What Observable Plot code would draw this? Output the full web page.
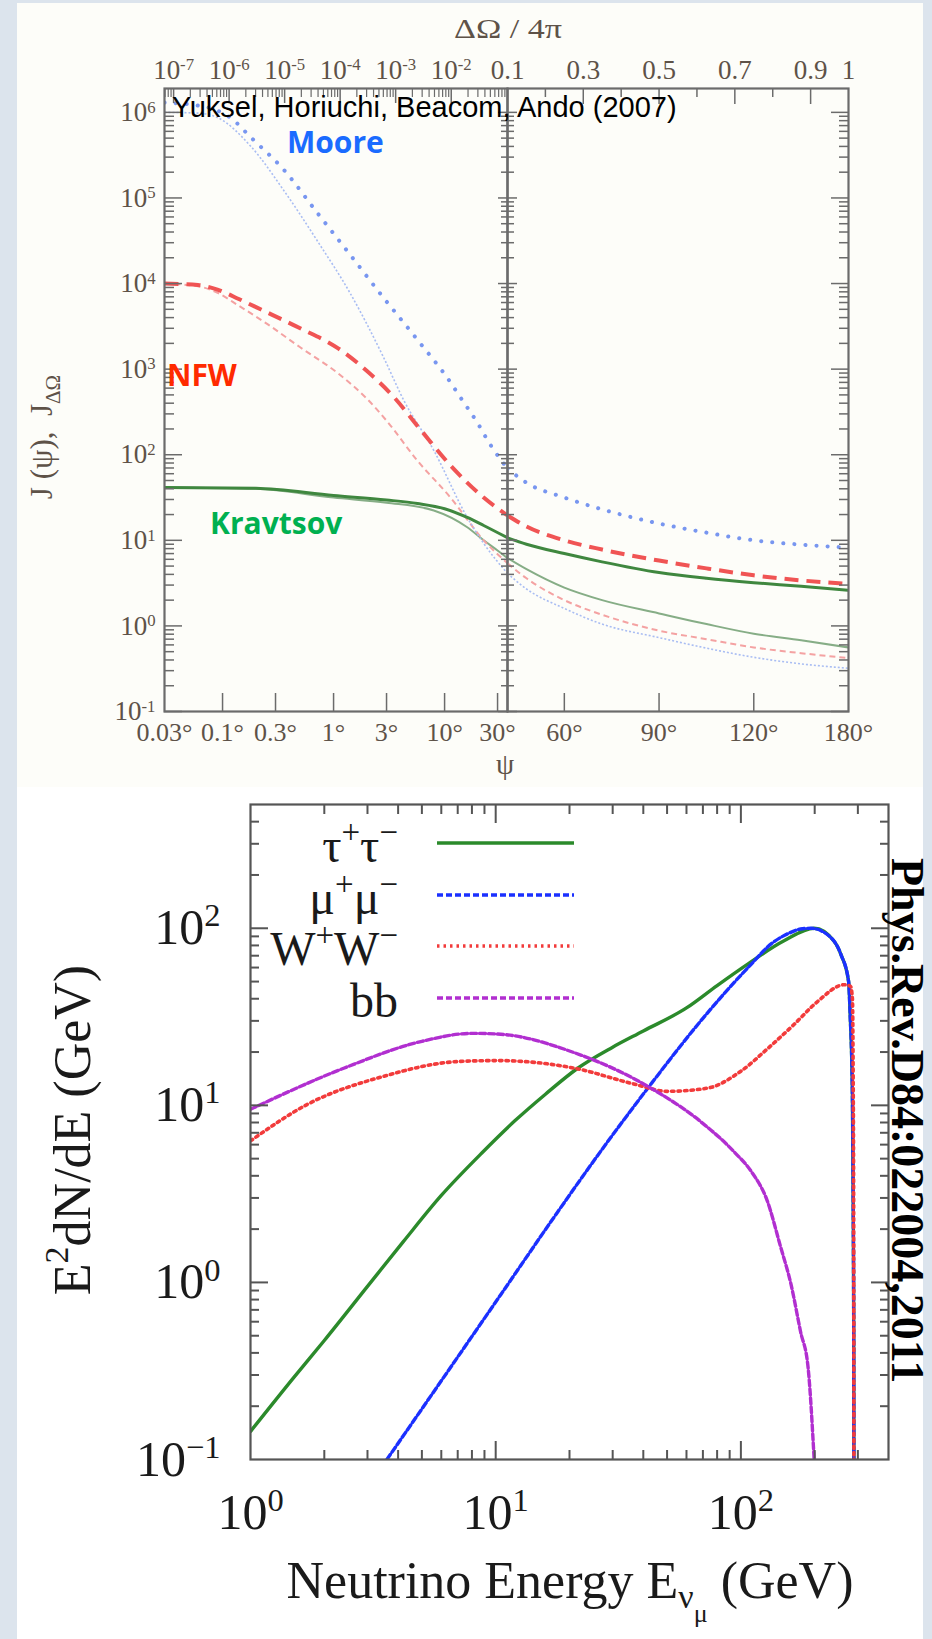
<!DOCTYPE html>
<html><head><meta charset="utf-8">
<script src="https://cdn.jsdelivr.net/npm/d3@7"></script>
<script src="https://cdn.jsdelivr.net/npm/@observablehq/plot@0.6"></script>
<style>
html,body{margin:0;padding:0;}
body{width:932px;height:1639px;background:#dce4ed;position:relative;overflow:hidden;}
.abs{position:absolute;}
</style></head>
<body>
<div class="abs" style="left:17px;top:3px;width:906px;height:784px;background:#fdfdf9"></div>
<div class="abs" style="left:17px;top:787px;width:906px;height:852px;background:#ffffff"></div>
<script>
// ---------------- TOP PANEL DATA (ψ in degrees, J values) ----------------
const psiRight = [36.87, 45.6, 60, 72.5, 90, 104.5, 120, 138.6, 180];

const mooreAvgPsi = [0.03, 0.06, 0.09, 0.12, 0.18, 0.36, 0.72, 1.4, 2.8, 5.7, 11.3, 14, 20, 25, 36.87];
const mooreAvgJ   = [1.3e6, 1.2e6, 1.05e6, 8.5e5, 5.1e5, 2.1e5, 6.6e4, 2.2e4, 6.9e3, 2.2e3, 700, 460, 230, 140, 69];
const mooreAvgJR  = [69, 47, 31.6, 23, 15.7, 12.3, 10, 8.9, 8.2];

const moorePsi = [0.03, 0.06, 0.09, 0.18, 0.36, 0.72, 1.42, 2.8, 4.3, 8, 16, 22.5, 36.87];
const mooreJ   = [1.0e6, 9.8e5, 8.7e5, 4.0e5, 1.2e5, 3.1e4, 7.6e3, 1.4e3, 430, 112, 18.5, 9.2, 4.1];
const mooreJR  = [4.1, 2.7, 1.6, 1.05, 0.73, 0.55, 0.43, 0.36, 0.32];

const nfwAvgPsi = [0.03, 0.06, 0.09, 0.14, 0.22, 0.5, 1.1, 2.0, 3.5, 6, 11.3, 22.5, 36.87];
const nfwAvgJ   = [1.0e4, 9.6e3, 8.5e3, 6.6e3, 5.0e3, 3.0e3, 1.75e3, 950, 470, 200, 75, 31.6, 19.5];
const nfwAvgJR  = [19.5, 14.5, 10, 7.8, 5.8, 4.7, 3.9, 3.4, 3.1];

const nfwPsi = [0.03, 0.06, 0.09, 0.14, 0.25, 0.5, 1.1, 2.0, 3.0, 5.7, 11.3, 22.5, 36.87];
const nfwJ   = [1.0e4, 9.3e3, 7.8e3, 5.5e3, 3.4e3, 1.8e3, 890, 450, 250, 85, 31.6, 10, 5.4];
const nfwJR  = [5.4, 3.6, 2.0, 1.35, 0.88, 0.7, 0.56, 0.48, 0.42];

const kravAvgPsi = [0.03, 0.2, 1, 3, 5.7, 10, 16, 22.5, 36.87];
const kravAvgJ   = [41.5, 40.6, 33.4, 29.6, 26.9, 23.4, 18.5, 14.9, 10.7];
const kravAvgJR  = [10.7, 9.0, 7.0, 5.6, 4.2, 3.6, 3.2, 2.9, 2.6];

const kravPsi = [0.03, 0.2, 1, 3, 8, 16, 22.5, 30, 36.87];
const kravJ   = [41.5, 40, 31.6, 27.5, 22.3, 14.2, 10, 7.6, 6.2];
const kravJR  = [6.2, 4.6, 2.8, 2.0, 1.4, 1.05, 0.81, 0.68, 0.56];

// tick labels (top panel)
const psiTicksLeft = [0.03, 0.1, 0.3, 1, 3, 10, 30];
const psiTicksRight = [60, 90, 120, 180];
const omegaExpTicks = [-7, -6, -5, -4, -3, -2];
const omegaLinTicks = [0.3, 0.5, 0.7, 0.9, 1];
const jExpTicks = [-1, 0, 1, 2, 3, 4, 5, 6];

// ---------------- BOTTOM PANEL DATA (E in GeV, E^2 dN/dE in GeV) ----------------
const channelNames = ["τ^+τ^−", "μ^+μ^−", "W^+W^−", "bb"];
const tauE = [1, 1.5, 2, 3, 4.2, 6, 8.8, 12, 16, 21.6, 30, 40, 60, 80, 107, 150, 199, 240, 256, 275, 279, 285, 287, 288.5, 289];
const tauV = [0.144, 0.29, 0.47, 0.95, 1.7, 3.1, 5.4, 8.2, 11.6, 16.2, 21.3, 26.3, 35.5, 47.5, 63, 85, 100, 84.5, 71, 50, 32.7, 11.5, 3, 0.6, 0.1];
const muE  = [3.6, 10.5, 17.9, 26.8, 43, 70, 107, 135, 155, 175, 193, 230, 256, 275, 279, 285, 287, 288.5, 289];
const muV  = [0.1, 0.855, 2.5, 5.5, 13.2, 31, 60, 83, 93, 99, 100, 90, 71, 50, 32.7, 11.5, 3, 0.6, 0.1];
const wwE  = [1, 1.7, 3.5, 7.1, 10.2, 21, 36.6, 50, 73, 100, 129, 165, 206, 264, 280, 285, 287, 288.5, 289];
const wwV  = [6.3, 10.1, 14.6, 17.7, 17.9, 16.2, 13.2, 12.0, 12.5, 15.6, 21, 28.7, 38.7, 48, 47, 40, 15, 2, 0.1];
const bbE  = [1, 2.4, 5, 8, 10.5, 21, 43, 68.5, 94, 110, 128, 145, 160, 175, 188, 199];
const bbV  = [9.5, 16.2, 23, 25.5, 25.2, 19.8, 12.5, 8.1, 5.45, 4.25, 2.9, 1.6, 0.98, 0.53, 0.33, 0.1];
const energyExpTicks = [0, 1, 2];
const specExpTicks = [-1, 0, 1, 2];

// ---------------- helpers ----------------
const DEG = Math.PI / 180;
const uOfPsi = p => (1 - Math.cos(p * DEG)) / 2;          // ΔΩ/4π for cone half-angle ψ
const psiOfU = u => 2 * Math.asin(Math.sqrt(u)) / DEG;
const PSI_DIV = psiOfU(0.1);
const TXT = "#5e5248", TK = "#6b6b6b";

function decadeMinors(kLo, kHi, lo, hi) {
  const out = [];
  for (let k = kLo; k <= kHi; k++) for (let m = 2; m <= 9; m++) {
    const v = m * Math.pow(10, k);
    if (v > lo * 1.0001 && v < hi * 0.9999) out.push(v);
  }
  return out;
}
function supify(svg, supSize, supDy) {
  d3.select(svg).selectAll("text").each(function () {
    if (this.querySelector("tspan")) return;
    const t = this.textContent, i = t.indexOf("^");
    if (i < 0) return;
    const sel = d3.select(this);
    sel.text(null);
    sel.append("tspan").text(t.slice(0, i));
    sel.append("tspan").attr("dy", supDy).attr("font-size", supSize).text(t.slice(i + 1));
  });
}
function place(svg, left, top) {
  svg.style.position = "absolute"; svg.style.left = left + "px"; svg.style.top = top + "px";
  document.body.appendChild(svg);
}

const topSeries = [
  {psi: kravPsi,    jl: kravJ,    jr: kravJR,    stroke: "#86ad86", sw: 2,   dash: null},
  {psi: nfwPsi,     jl: nfwJ,     jr: nfwJR,     stroke: "#f4a2a2", sw: 2,   dash: "6,4"},
  {psi: moorePsi,   jl: mooreJ,   jr: mooreJR,   stroke: "#a9bdf3", sw: 1.6, dash: "2,2"},
  {psi: mooreAvgPsi,jl: mooreAvgJ,jr: mooreAvgJR,stroke: "#7896f0", sw: 4,   dash: "0.1,11", cap: "round"},
  {psi: nfwAvgPsi,  jl: nfwAvgJ,  jr: nfwAvgJR,  stroke: "#f05454", sw: 4,   dash: "14,8"},
  {psi: kravAvgPsi, jl: kravAvgJ, jr: kravAvgJR, stroke: "#3f873f", sw: 3,   dash: null}
];
const lineOpts = s => ({stroke: s.stroke, strokeWidth: s.sw, strokeDasharray: s.dash, strokeLinecap: s.cap || "butt", curve: "monotone-x", clip: true});

const yMaj = jExpTicks.map(k => Math.pow(10, k));
const yMin = decadeMinors(-1, 5, 0.1, 1.9e6);
const yDomain = [0.1, 1.9e6];
const H = 790, MT = 88, MB = H - 711;

// top axis (ΔΩ/4π) ticks on left panel, converted to ψ
const topMajPsi = omegaExpTicks.map(k => psiOfU(Math.pow(10, k)));
const topMinPsi = decadeMinors(-8, -2, uOfPsi(0.03), 0.1).map(psiOfU);
const topLabPsi = [...omegaExpTicks.map(k => Math.pow(10, k)), 0.1].map(psiOfU);

const labTop = (data, fmt) => Plot.text(data, {x: d => d, text: fmt, frameAnchor: "top", lineAnchor: "bottom", dy: -10, fontSize: 27, fill: TXT});
const labBottom = (data, fmt) => Plot.text(data, {x: d => d, text: fmt, frameAnchor: "bottom", lineAnchor: "top", dy: 11, fontSize: 26, fill: TXT});

// ---------------- Plot A: left half (log ψ) ----------------
const A = Plot.plot({
  width: 508, height: H, marginLeft: 164, marginRight: 1, marginTop: MT, marginBottom: MB,
  x: {type: "log", domain: [0.03, PSI_DIV], axis: null},
  y: {type: "log", domain: yDomain, axis: null},
  style: {background: "transparent", overflow: "visible", fontFamily: "Liberation Serif"},
  marks: [
    ...topSeries.map(s => Plot.line(s.psi.map((p, i) => ({psi: p, J: s.jl[i]})), {x: "psi", y: "J", ...lineOpts(s)})),
    Plot.frame({stroke: TK, strokeWidth: 2.2}),
    Plot.axisY(yMaj, {anchor: "left", tickSize: -18, fill: "none", stroke: TK, strokeWidth: 1.5}),
    Plot.axisY(yMin, {anchor: "left", tickSize: -10, fill: "none", stroke: TK, strokeWidth: 1.5}),
    Plot.axisY(yMaj, {anchor: "right", tickSize: -10, fill: "none", stroke: TK, strokeWidth: 1.5}),
    Plot.axisY(yMin, {anchor: "right", tickSize: -7, fill: "none", stroke: TK, strokeWidth: 1.5}),
    Plot.text(yMaj, {y: d => d, text: d => "10^" + Math.round(Math.log10(d)), frameAnchor: "left", textAnchor: "end", dx: -9, fontSize: 27, fill: TXT}),
    Plot.axisX(psiTicksLeft.slice(1), {anchor: "bottom", tickSize: -18, fill: "none", stroke: TK, strokeWidth: 1.5}),
    labBottom(psiTicksLeft, d => d + "°"),
    Plot.axisX(topMajPsi, {anchor: "top", tickSize: -14, fill: "none", stroke: TK, strokeWidth: 1.5}),
    Plot.axisX(topMinPsi, {anchor: "top", tickSize: -8, fill: "none", stroke: TK, strokeWidth: 1.2}),
    labTop(topLabPsi, d => { const e = Math.round(Math.log10(uOfPsi(d))); return e === -1 ? "0.1" : "10^-" + (-e); })
  ]
});
supify(A, "0.62em", "-0.5em");
place(A, 0, 0);

// ---------------- Plot B: right half (linear ΔΩ/4π) ----------------
const topLinMinor = [0.2, 0.4, 0.6, 0.8];
const topLinMajor = [0.3, 0.5, 0.7, 0.9];
const B = Plot.plot({
  width: 401, height: H, marginLeft: 0, marginRight: 60, marginTop: MT, marginBottom: MB,
  x: {domain: [0.1, 1], axis: null},
  y: {type: "log", domain: yDomain, axis: null},
  style: {background: "transparent", overflow: "visible", fontFamily: "Liberation Serif"},
  marks: [
    ...topSeries.map(s => Plot.line(psiRight.map((p, i) => ({u: uOfPsi(p), J: s.jr[i]})), {x: "u", y: "J", ...lineOpts(s)})),
    Plot.frame({stroke: TK, strokeWidth: 2.2}),
    Plot.axisY(yMaj, {anchor: "left", tickSize: -10, fill: "none", stroke: TK, strokeWidth: 1.5}),
    Plot.axisY(yMin, {anchor: "left", tickSize: -7, fill: "none", stroke: TK, strokeWidth: 1.5}),
    Plot.axisY(yMaj, {anchor: "right", tickSize: -18, fill: "none", stroke: TK, strokeWidth: 1.5}),
    Plot.axisY(yMin, {anchor: "right", tickSize: -10, fill: "none", stroke: TK, strokeWidth: 1.5}),
    Plot.axisX(psiTicksRight.slice(0, -1).map(uOfPsi), {anchor: "bottom", tickSize: -18, fill: "none", stroke: TK, strokeWidth: 1.5}),
    labBottom(psiTicksRight.map(uOfPsi), d => Math.round(psiOfU(d)) + "°"),
    Plot.axisX(topLinMinor, {anchor: "top", tickSize: -8, fill: "none", stroke: TK, strokeWidth: 1.5}),
    Plot.axisX(topLinMajor, {anchor: "top", tickSize: -15, fill: "none", stroke: TK, strokeWidth: 1.5}),
    labTop(omegaLinTicks, d => String(d))
  ]
});
place(B, 507, 0);

// ---------------- Plot C: bottom panel ----------------
const bottomSeries = [
  {e: tauE, v: tauV, stroke: "#2b8a2b", sw: 3.4, dash: null},
  {e: muE,  v: muV,  stroke: "#1b30ff", sw: 3.4, dash: "6,3"},
  {e: wwE,  v: wwV,  stroke: "#f23b3b", sw: 3.6, dash: "2.5,4"},
  {e: bbE,  v: bbV,  stroke: "#b12fd0", sw: 3.4, dash: "6,3"}
];
const xMaj = energyExpTicks.map(k => Math.pow(10, k));
const xMin = decadeMinors(0, 2, 1, 400);
const yMajC = specExpTicks.map(k => Math.pow(10, k));
const yMinC = decadeMinors(-1, 2, 0.1, 500);
const C = Plot.plot({
  width: 932, height: 859, marginLeft: 250, marginRight: 44, marginTop: 24, marginBottom: 180,
  x: {type: "log", domain: [1, 400], axis: null},
  y: {type: "log", domain: [0.1, 500], axis: null},
  style: {background: "transparent", overflow: "visible", fontFamily: "Liberation Serif"},
  marks: [
    ...bottomSeries.map(s => Plot.line(s.e.map((e, i) => ({E: e, V: s.v[i]})),
      {x: "E", y: "V", stroke: s.stroke, strokeWidth: s.sw, strokeDasharray: s.dash, curve: "monotone-x", clip: true})),
    Plot.frame({stroke: "#555", strokeWidth: 2.2}),
    Plot.axisY(yMajC.slice(1), {anchor: "left", tickSize: -18, fill: "none", stroke: "#555", strokeWidth: 2}),
    Plot.axisY(yMinC, {anchor: "left", tickSize: -9, fill: "none", stroke: "#555", strokeWidth: 2}),
    Plot.axisY(yMajC.slice(1), {anchor: "right", tickSize: -18, fill: "none", stroke: "#555", strokeWidth: 2}),
    Plot.axisY(yMinC, {anchor: "right", tickSize: -9, fill: "none", stroke: "#555", strokeWidth: 2}),
    Plot.axisX(xMaj.slice(1), {anchor: "bottom", tickSize: -18, fill: "none", stroke: "#555", strokeWidth: 2}),
    Plot.axisX(xMin, {anchor: "bottom", tickSize: -9, fill: "none", stroke: "#555", strokeWidth: 2}),
    Plot.axisX(xMaj.slice(1), {anchor: "top", tickSize: -18, fill: "none", stroke: "#555", strokeWidth: 2}),
    Plot.axisX(xMin, {anchor: "top", tickSize: -9, fill: "none", stroke: "#555", strokeWidth: 2}),
    Plot.text(yMajC, {y: d => d, text: d => "10^" + String(Math.round(Math.log10(d))).replace("-", "−"),
      frameAnchor: "left", textAnchor: "end", dx: -30, fontSize: 50, fill: "#1a1a1a"}),
    Plot.text(xMaj, {x: d => d, text: d => "10^" + Math.round(Math.log10(d)),
      frameAnchor: "bottom", lineAnchor: "top", dy: 34, fontSize: 50, fill: "#1a1a1a"})
  ]
});
supify(C, "0.65em", "-0.55em");
place(C, 0, 780);

// ---------------- overlay: titles, annotations, legend ----------------
const ov = d3.select(document.body).append("svg")
  .attr("width", 932).attr("height", 1639)
  .style("position", "absolute").style("left", "0px").style("top", "0px")
  .attr("font-family", "Liberation Serif");

ov.append("text").attr("x", 508).attr("y", 38).attr("text-anchor", "middle").attr("font-size", 28).attr("fill", TXT)
  .attr("textLength", 108).attr("lengthAdjust", "spacingAndGlyphs").text("ΔΩ / 4π");
const jl = ov.append("text").attr("transform", "translate(52,437) rotate(-90)").attr("text-anchor", "middle")
  .attr("font-size", 31).attr("fill", TXT);
jl.append("tspan").text("J (ψ),\u00a0\u00a0J");
jl.append("tspan").attr("font-size", 21).attr("dy", 8).text("ΔΩ");
ov.append("text").attr("x", 505).attr("y", 774).attr("text-anchor", "middle").attr("font-size", 29).attr("fill", TXT).text("ψ");

ov.append("text").attr("x", 172).attr("y", 117).attr("font-family", "Liberation Sans, Arial").attr("font-size", 29).attr("fill", "#000")
  .text("Yuksel, Horiuchi, Beacom, Ando (2007)");
const ann = [["Moore", 287, 153, "#1a6bff"], ["NFW", 167, 386, "#ff2a00"], ["Kravtsov", 210, 534, "#00b050"]];
ann.forEach(([t, x, y, c]) => ov.append("text").attr("x", x).attr("y", y).attr("font-family", "Open Sans, Noto Sans")
  .attr("font-weight", 700).attr("font-size", 30).attr("fill", c).text(t));

// legend
const legY = [843, 895, 946, 998];
channelNames.forEach((name, i) => {
  const s = bottomSeries[i];
  ov.append("line").attr("x1", 437).attr("x2", 574).attr("y1", legY[i]).attr("y2", legY[i])
    .attr("stroke", s.stroke).attr("stroke-width", s.sw).attr("stroke-dasharray", s.dash);
  const t = ov.append("text").attr("x", 398).attr("y", legY[i] + 19).attr("text-anchor", "end").attr("font-size", 48).attr("fill", "#1a1a1a");
  const parts = name.split(/(\^.)/).filter(p => p);
  let raised = false;
  parts.forEach(p => {
    if (p[0] === "^") { t.append("tspan").attr("font-size", 33).attr("dy", raised ? 0 : -19).text(p.slice(1)); raised = true; }
    else { t.append("tspan").attr("dy", raised ? 19 : 0).text(p); raised = false; }
  });
});

// bottom axis titles
const xl = ov.append("text").attr("x", 570).attr("y", 1598).attr("text-anchor", "middle").attr("font-size", 52).attr("fill", "#1a1a1a");
xl.append("tspan").text("Neutrino Energy E");
xl.append("tspan").attr("font-size", 34).attr("dy", 10).text("ν");
xl.append("tspan").attr("font-size", 26).attr("dy", 14).text("μ");
xl.append("tspan").attr("dy", -24).text("\u00a0(GeV)");
const yl = ov.append("text").attr("transform", "translate(90,1130) rotate(-90)").attr("text-anchor", "middle").attr("font-size", 52).attr("fill", "#1a1a1a");
yl.append("tspan").text("E");
yl.append("tspan").attr("font-size", 34).attr("dy", -22).text("2");
yl.append("tspan").attr("dy", 22).text("dN/dE (GeV)");

ov.append("text").attr("transform", "translate(892,858) rotate(90)").attr("font-size", 46).attr("font-weight", 700).attr("fill", "#000")
  .text("Phys.Rev.D84:022004,2011");
</script>
</body></html>
